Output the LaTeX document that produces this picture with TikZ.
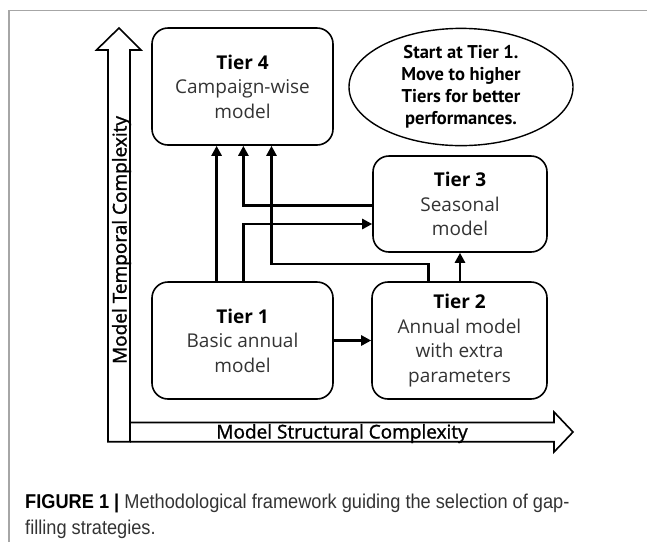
\documentclass[tikz,border=0pt]{standalone}
\usepackage{fontspec}
\setmainfont{Open Sans}
\newfontfamily\notefont{PT Sans}
\newfontfamily\axisfont[FakeBold=1.3]{Open Sans}
\newfontfamily\capfont[FakeStretch=0.91]{Liberation Sans}
\usetikzlibrary{arrows.meta,shapes.geometric}

\begin{document}
\begin{tikzpicture}[x=1pt,y=-1pt,
  tier/.style={draw,line width=1.6pt,rounded corners=16pt,align=center,inner sep=0pt,
    font=\fontsize{19}{24.5}\selectfont,text=black!80},
  note/.style={draw,ellipse,line width=1.4pt,inner sep=0pt,align=center,
    minimum width=224pt,minimum height=116pt,
    font=\notefont\bfseries\fontsize{18.5}{22}\selectfont},
  flow/.style={line width=2.8pt,-{Triangle[length=10pt,width=10pt]}},
  axis/.style={line width=1.6pt,line join=miter},
  axislabel/.style={font=\axisfont\fontsize{19}{22}\selectfont,inner sep=0pt,anchor=base}]

\useasboundingbox (0,0) rectangle (647,542);

%frame of the figure
  \draw[gray!70,line width=1.2pt] (9,542) -- (9,10.5) -- (647,10.5);

%the two complexity axes
  \draw[axis] (108,441.7) -- (108,50) -- (96.5,50) -- (119,28) -- (141,50)
    -- (130,50) -- (130,441.7) -- cycle;
  \draw[axis] (130,422.5) -- (554,422.5) -- (554,412) -- (573,432) -- (554,452)
    -- (554,441.7) -- (130,441.7);
  \node[axislabel,rotate=90] (templabel) at (126.5,240) {Model Temporal Complexity};
  \node[axislabel] (structlabel) at (342,438.5) {Model Structural Complexity};

%tiers
  \node[tier,minimum width=181pt,minimum height=117pt] (tier4) at (242.5,86.5)
    {{\color{black}\bfseries Tier 4}\\Campaign-wise\\model};
  \node[tier,minimum width=181pt,minimum height=117pt] (tier1) at (242.5,340.5)
    {{\color{black}\bfseries Tier 1}\\Basic annual\\model};
  \node[tier,minimum width=175pt,minimum height=117pt] (tier2) at (459.5,340.5)
    {{\color{black}\bfseries Tier 2}\\Annual model\\with extra\\parameters};
  \node[tier,minimum width=174pt,minimum height=96pt] (tier3) at (460,204)
    {{\color{black}\bfseries Tier 3}\\Seasonal\\model};
  \node[note] (hint) at (461,87)
    {Start at Tier 1.\\Move to higher\\Tiers for better\\performances.};

%lanes and rows of the connectors
  \coordinate (laneA) at (216.6,0);
  \coordinate (laneB) at (243.4,0);
  \coordinate (laneC) at (271.5,0);
  \coordinate (laneD) at (428.5,0);
  \coordinate (laneE) at (460,0);
  \coordinate (rowA) at (0,205.5);
  \coordinate (rowB) at (0,224);
  \coordinate (rowC) at (0,264);

%connectors
  \draw[flow] (tier1.east) -- (tier2.west);
  \draw[flow] (laneE |- tier2.north) -- (laneE |- tier3.south);
  \draw[flow] (laneA |- tier1.north) -- (laneA |- tier4.south);
  \draw[flow] (laneB |- tier1.north) -- (laneB |- rowB) -- (tier3.west |- rowB);
  \draw[flow] (tier3.west |- rowA) -- (laneB |- rowA) -- (laneB |- tier4.south);
  \draw[flow] (laneD |- tier2.north) -- (laneD |- rowC) -- (laneC |- rowC)
    -- (laneC |- tier4.south);

%caption
  \node[font=\capfont\fontsize{20}{26}\selectfont,anchor=base west,inner sep=0pt,
    text=black!80] (caption1) at (25,508)
    {{\color{black}\bfseries FIGURE 1 |} Methodological framework guiding the selection of gap-};
  \node[font=\capfont\fontsize{20}{26}\selectfont,anchor=base west,inner sep=0pt,
    text=black!80] (caption2) at (25,534) {filling strategies.};

\end{tikzpicture}
\end{document}
